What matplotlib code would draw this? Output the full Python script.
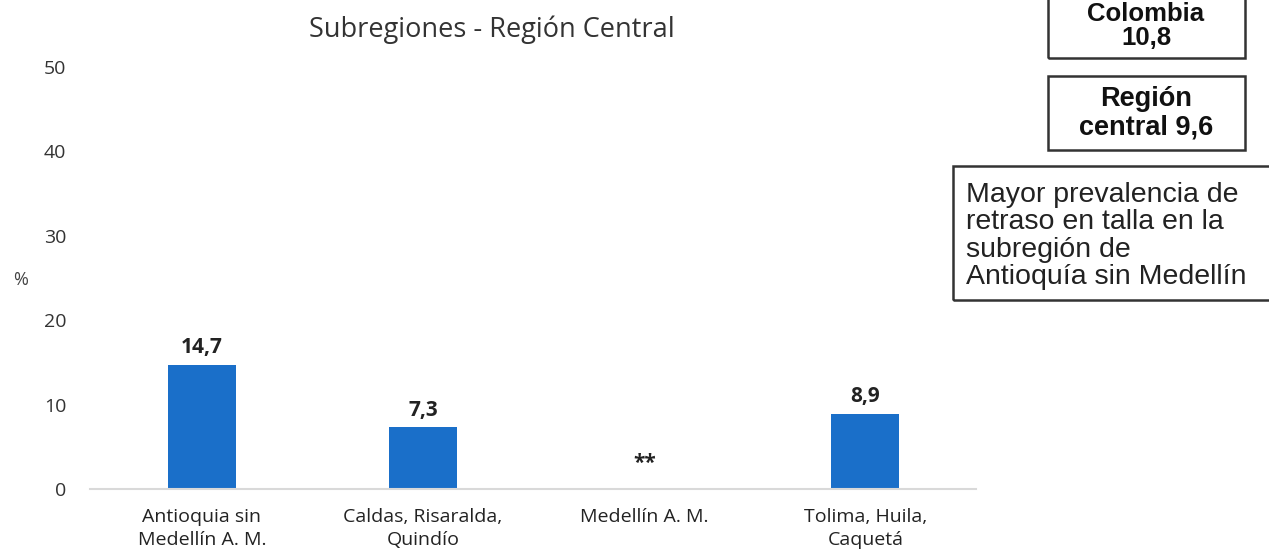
import numpy as np
import matplotlib
matplotlib.use("Agg")
import matplotlib.pyplot as plt
from matplotlib.patches import Rectangle

categories = ["Antioquia sin\nMedellín A. M.", "Caldas, Risaralda,\nQuindío",
              "Medellín A. M.", "Tolima, Huila,\nCaquetá"]
values = [14.7, 7.3, np.nan, 8.9]
value_labels = ["14,7", "7,3", "**", "8,9"]
yticks = [0, 10, 20, 30, 40, 50]
title = "Subregiones - Región Central"

fig = plt.figure(figsize=(12.69, 5.56), dpi=100)
ax = fig.add_axes([90/1269, (556-489)/556, (976-90)/1269, (489-67)/556])

x = np.arange(len(categories))
vals = np.nan_to_num(values)
ax.bar(x, vals, width=0.307, color="#1A6FC9", zorder=2)
for xi, v, lab in zip(x, values, value_labels):
    if np.isnan(v):
        ax.text(xi, 1.8, lab, ha="center", va="bottom", fontsize=15,
                fontweight="bold", family="Open Sans", color="#222222")
    else:
        ax.text(xi, v + 0.8, lab, ha="center", va="bottom", fontsize=15,
                fontweight="bold", family="Open Sans", color="#222222")

ax.set_xlim(-0.506, 3.5)
ax.set_ylim(0, 50)
ax.set_yticks(yticks)
ax.set_yticklabels([str(t) for t in yticks], family="Open Sans", fontsize=14, color="#333333")
ax.set_xticks(x)
ax.set_xticklabels(categories, family="Open Sans", fontsize=14, color="#222222",
                   linespacing=1.3)
ax.tick_params(axis="both", length=0)
ax.tick_params(axis="x", pad=14)
ax.tick_params(axis="y", pad=17)
for s in ["top", "right", "left"]:
    ax.spines[s].set_visible(False)
ax.spines["bottom"].set_color("#D9D9D9")
ax.spines["bottom"].set_linewidth(1.5)

fig.text(492/1269, 1 - 30/556, title, ha="center", va="center",
         family="Open Sans", fontsize=19.5, color="#333333")
fig.text(21/1269, 1 - 280/556, "%", ha="center", va="center",
         family="Open Sans", fontsize=13, color="#444444")

def fig_box(x0, y0, x1, y1):
    r = Rectangle((x0/1269, 1 - y1/556), (x1-x0)/1269, (y1-y0)/556,
                  transform=fig.transFigure, fill=False, edgecolor="#333333",
                  linewidth=1.8, clip_on=False)
    fig.patches.append(r)

fig_box(1048, -10, 1245, 58)
fig.text(1146/1269, 1 - 26/556, "Colombia\n10,8", ha="center", va="center",
         family="Liberation Sans", fontweight="bold", fontsize=18.5, linespacing=1.0,
         color="#111111")
fig_box(1048, 76, 1245, 150)
fig.text(1146/1269, 1 - 113/556, "Región\ncentral 9,6", ha="center", va="center",
         family="Liberation Sans", fontweight="bold", fontsize=19.5, linespacing=1.1,
         color="#111111")
fig_box(953, 166, 1280, 300)
fig.text(966/1269, 1 - 236/556,
         "Mayor prevalencia de\nretraso en talla en la\nsubregión de\nAntioquía sin Medellín",
         ha="left", va="center", family="Liberation Sans", fontsize=20.5,
         linespacing=1.06, color="#222222")

fig.savefig("out.png", dpi=100)
